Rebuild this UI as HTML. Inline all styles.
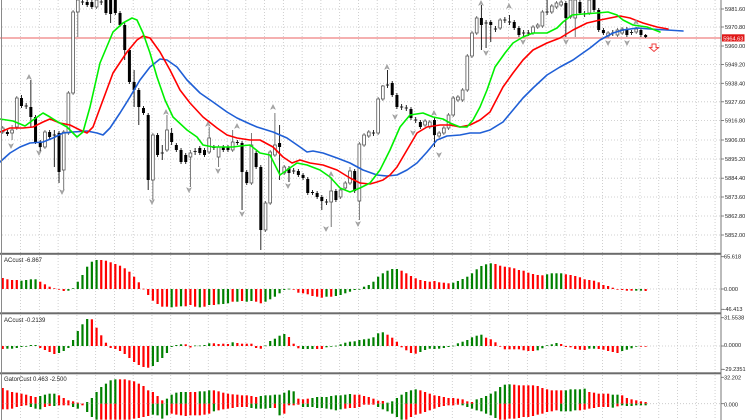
<!DOCTYPE html>
<html><head><meta charset="utf-8">
<style>
html,body{margin:0;padding:0;background:#fff;width:752px;height:420px;overflow:hidden}
svg{display:block}
text{font-family:"Liberation Sans",sans-serif;fill:#222}
</style></head>
<body>
<svg id="c" width="752" height="420" viewBox="0 0 752 420" xmlns="http://www.w3.org/2000/svg">
<rect width="752" height="420" fill="#fff"/>
<g id="lgrid"></g>
<line x1="0" y1="38" x2="721" y2="38" stroke="#ef8080" stroke-width="1.2"/>
<g id="lcand"></g>
<g id="lma"></g>
<g id="lfr"></g>
<g id="lhist"></g>
<polygon points="652,44 656,44 656,47.5 658.5,47.5 654,51.5 649.5,47.5 652,47.5" fill="#fff" stroke="#f04040" stroke-width="1"/>
<!-- separators and axis -->
<rect x="0" y="252.8" width="721" height="2" fill="#6b6b6b"/>
<rect x="0" y="312.3" width="721" height="2" fill="#6b6b6b"/>
<rect x="0" y="372.3" width="721" height="2" fill="#6b6b6b"/>
<line x1="1.5" y1="0" x2="1.5" y2="420" stroke="#8a8a8a" stroke-width="1"/>
<line x1="721" y1="0" x2="721" y2="420" stroke="#777" stroke-width="1"/>
<g id="lticks" stroke="#666" stroke-width="0.8"></g>
<!-- axis labels main -->
<g font-size="5.6">
<text x="725" y="11">5981.60</text>
<text x="725" y="29">5970.80</text>
<text x="725" y="48">5960.00</text>
<text x="725" y="66.5">5949.20</text>
<text x="725" y="85.3">5938.40</text>
<text x="725" y="103.8">5927.60</text>
<text x="725" y="122.5">5916.80</text>
<text x="725" y="142">5906.00</text>
<text x="725" y="161">5895.20</text>
<text x="725" y="180.2">5884.40</text>
<text x="725" y="199">5873.60</text>
<text x="725" y="218">5862.80</text>
<text x="725" y="237">5852.00</text>
<text x="724" y="258.7">65.618</text>
<text x="724" y="291">0.000</text>
<text x="723.5" y="311">-46.413</text>
<text x="724" y="319.7">31.5538</text>
<text x="724" y="347">0.0000</text>
<text x="723.5" y="371">-29.2351</text>
<text x="724" y="379.3">32.202</text>
<text x="724" y="406.3">0.000</text>
</g>
<rect x="722" y="34.3" width="22.5" height="7.2" fill="#e01818"/>
<text x="723.2" y="40.3" font-size="5.6" style="fill:#fff">5964.63</text>
<g font-size="6">
<text x="4" y="262">ACcust -6.867</text>
<text x="4" y="322">ACcust -0.2139</text>
<text x="4" y="381">GatorCust 0.463 -2.500</text>
</g>
</svg>
<script>
(function(){
var svg=document.getElementById('c');
var NS='http://www.w3.org/2000/svg';
function el(t,a,p){var e=document.createElementNS(NS,t);for(var k in a)e.setAttribute(k,a[k]);p.appendChild(e);return e;}
function X(i){return 2.7+4.693*i;}
var lg=document.getElementById('lgrid');
for(var k=1;k<=38;k++){var x=1.8+18.77*k;if(x>720)break;
 el('line',{x1:x,y1:0,x2:x,y2:420,stroke:'#c4c4c4','stroke-width':0.8,'stroke-dasharray':'1 2'},lg);}
var gy=[9,27,46,64.5,83.3,101.8,120.5,140,159,178.2,197,216,235];
var lt=document.getElementById('lticks');
gy.forEach(function(y){el('line',{x1:2,y1:y,x2:721,y2:y,stroke:'#c4c4c4','stroke-width':0.8,'stroke-dasharray':'1 2'},lg);
 el('line',{x1:721,y1:y,x2:724,y2:y},lt);});
[289,346,403.7].forEach(function(y){el('line',{x1:2,y1:y,x2:721,y2:y,stroke:'#c4c4c4','stroke-width':0.8,'stroke-dasharray':'1 2'},lg);
 el('line',{x1:721,y1:y,x2:724,y2:y},lt);});
[256.7,309.3,317.7,369.3,377.3].forEach(function(y){el('line',{x1:721,y1:y,x2:724,y2:y},lt);});

var C=[
['w',128,132,126,134],['b',132,134,130,136],['w',130,133,125,140],['w',98,127,96,130],['b',98,106,95,108],
['d',105,107,103,109],['b',107,117,80,127],['b',117,142,115,144],['b',142,147,140,152],['w',132,147,130,149],
['b',132,137,130,139],['d',134,136,130,167],['b',133,172,131,183],['w',132,170,130,190],['w',93,133,91,135],
['w',12,93,10,95],['w',0,12,0,37],['d',1,3,0,5],['b',2,5,0,7],['b',2,7,0,9],
['w',0,7,0,9],['d',1,3,0,5],['b',0,13,0,15],['b',0,14,0,23],['b',0,13,0,15],
['b',13,25,11,27],['b',25,50,23,60],['b',50,82,48,84],['b',82,90,70,107],['b',90,107,88,125],
['b',108,113,106,115],['b',115,180,113,190],['w',135,180,133,200],['b',135,155,133,157],['d',152,154,145,160],
['w',130,150,115,152],['b',133,142,128,145],['b',145,150,143,152],['b',150,162,148,164],['b',155,162,153,164],
['w',153,157,150,187],['d',150,153,148,155],['b',148,153,146,155],['b',150,155,148,157],['w',138,152,127,154],
['b',147,148,145,150],['w',147,157,145,167],['b',147,150,145,152],['b',147,150,145,152],['w',142,150,130,152],
['b',142,143,140,145],['b',143,172,141,210],['b',172,183,170,185],['w',145,183,133,185],['b',153,167,151,169],
['b',167,230,165,250],['w',203,230,201,232],['w',152,203,150,205],['w',145,155,113,157],['b',143,147,125,180],
['w',167,173,165,175],['b',168,173,166,182],['d',170,172,168,174],['b',171,175,169,177],['b',175,178,173,180],
['b',179,193,177,195],['b',192,193,190,195],['b',193,197,191,199],['b',197,201,195,210],['d',201,203,199,205],
['w',191,202,177,227],['b',191,200,189,202],['w',190,197,188,199],['w',183,188,181,190],['w',171,183,167,185],
['b',171,191,169,193],['w',144,201,142,220],['w',135,145,133,147],['w',132,136,130,138],['d',132,134,130,136],
['w',99,133,97,135],['w',86,99,85,101],['d',84,86,70,88],['b',83,95,81,97],['b',95,107,93,109],
['d',106,108,104,110],['d',107,109,105,111],['b',109,118,107,120],['d',119,121,117,123],['b',122,127,120,129],
['w',121,125,119,127],['w',122,127,120,129],['b',120,135,118,147],['w',133,136,131,138],['w',128,133,126,135],
['w',115,128,113,130],['w',98,115,96,117],['w',97,100,95,102],['w',90,100,88,102],['w',56,90,54,92],
['w',33,56,31,58],['w',18,33,16,35],['b',18,25,5,50],['d',22,24,20,48],['b',22,25,20,42],
['d',28,30,26,32],['w',20,28,18,30],['d',19,21,17,23],['d',21,23,15,25],['b',22,28,20,30],
['b',28,35,26,37],['d',32,34,30,36],['d',32,34,30,36],['w',27,33,25,35],['w',25,27,23,29],
['w',12,26,10,28],['d',11,13,0,15],['w',6,12,4,14],['w',3,7,1,9],['w',2,5,0,7],
['b',3,18,1,37],['w',0,17,0,19],['w',0,18,0,37],['b',2,13,0,15],['d',13,15,11,17],
['w',0,13,0,15],['b',0,10,0,12],['b',10,30,8,32],['b',30,33,28,35],['w',33,36,31,38],
['d',32,34,30,36],['w',30,35,28,37],['w',29,33,27,35],['b',29,35,27,37],['d',32,33,30,35],
['w',29,32,27,34],['b',30,35,28,37],['b',35,37,34,38]];
var lc=document.getElementById('lcand');
C.forEach(function(c,i){var x=X(i);var t=c[0];
 el('line',{x1:x,y1:c[3],x2:x,y2:c[4],stroke:(t=='w'?'#6a6a6a':'#111'),'stroke-width':0.9},lc);
 if(t=='b'){el('rect',{x:x-1.5,y:c[1],width:3,height:Math.max(c[2]-c[1],1),fill:'#000'},lc);}
 else if(t=='w'){el('rect',{x:x-1.4,y:c[1],width:2.8,height:Math.max(c[2]-c[1],1),fill:'#fff',stroke:'#555','stroke-width':0.8},lc);}
 else{el('line',{x1:x-1.6,y1:(c[1]+c[2])/2,x2:x+1.6,y2:(c[1]+c[2])/2,stroke:'#222','stroke-width':1},lc);}
});

var lm=document.getElementById('lma');
function pl(pts,col){el('polyline',{points:pts.map(function(p){return p[0]+','+p[1];}).join(' '),fill:'none',stroke:col,'stroke-width':1.6,'stroke-linejoin':'round','stroke-linecap':'round'},lm);}
pl([[0,162],[10,153],[20,147],[30,143],[43,142],[53,138],[63,133],[73,132],[87,131],[97,133],[103,135],[110,128],[120,113],[130,97],[140,80],[150,67],[160,59],[167,60],[177,67],[187,80],[200,93],[213,102],[227,112],[237,118],[250,124],[257,127],[273,132],[287,138],[300,147],[307,152],[313,151],[323,153],[337,158],[350,163],[363,170],[377,175],[387,176],[397,175],[407,170],[417,163],[427,152],[437,140],[447,136],[460,135],[470,133],[480,133],[490,130],[503,122],[513,110],[523,98],[533,88],[547,75],[560,67],[573,60],[580,55],[590,48],[600,40],[613,33],[623,30],[637,28],[650,29],[667,30],[683,31]],'#1f5fd6');
pl([[0,132],[10,128],[23,128],[33,127],[43,122],[50,119],[60,123],[70,125],[80,130],[87,133],[93,127],[103,100],[113,73],[127,52],[137,40],[143,36],[150,38],[160,52],[170,70],[180,90],[190,103],[203,117],[217,128],[227,135],[237,138],[250,140],[260,140],[273,147],[283,157],[292,163],[300,160],[310,163],[323,165],[337,170],[350,178],[360,183],[370,184],[377,182],[383,180],[390,175],[397,167],[407,150],[417,133],[427,127],[440,125],[450,125],[460,127],[470,125],[480,120],[490,112],[503,87],[513,73],[523,60],[533,50],[547,43],[560,38],[573,30],[587,23],[600,20],[610,18],[620,16],[630,18],[643,23],[657,27],[668,29]],'#ff0000');
pl([[0,119],[13,121],[25,126],[33,120],[43,113],[50,117],[58,122],[67,127],[77,137],[83,132],[90,107],[100,63],[113,32],[123,23],[132,18],[137,20],[143,33],[150,53],[157,77],[165,100],[173,117],[187,130],[197,137],[203,145],[213,147],[233,147],[240,146],[250,145],[260,153],[270,155],[280,175],[287,170],[297,163],[307,165],[320,170],[330,177],[340,188],[350,192],[360,188],[370,183],[380,170],[390,150],[400,127],[410,115],[423,113],[433,117],[443,119],[450,123],[460,127],[467,127],[473,120],[480,107],[487,90],[495,67],[505,53],[513,43],[523,37],[533,33],[547,33],[557,28],[563,22],[572,15],[583,14],[597,13],[608,12],[617,15],[623,20],[633,25],[647,27],[660,32]],'#00f000');

var lf=document.getElementById('lfr');
[[29,77],[166,112],[208,124],[237,126],[273,107],[331,174],[387,67],[434,113],[481,3],[509,6],[636,22]].forEach(function(p){
 var x=p[0],y=p[1];el('polygon',{points:(x)+','+(y-2.5)+' '+(x+2.5)+','+(y+2.5)+' '+x+','+(y+1)+' '+(x-2.5)+','+(y+2.5),fill:'#a8a8a8',stroke:'#888','stroke-width':0.4},lf);});
[[11,146],[39,153],[62,192],[152,202],[189,190],[218,171],[242,214],[288,186],[326,229],[358,224],[395,117],[413,133],[439,155],[486,53],[523,42],[566,42],[608,43],[627,43]].forEach(function(p){
 var x=p[0],y=p[1];el('polygon',{points:(x)+','+(y+2.5)+' '+(x+2.5)+','+(y-2.5)+' '+x+','+(y-1)+' '+(x-2.5)+','+(y-2.5),fill:'#a8a8a8',stroke:'#888','stroke-width':0.4},lf);});

var GR='#008000',RD='#ff0000';
var lh=document.getElementById('lhist');
function bar(x,y1,y2,col){var t=Math.min(y1,y2),h=Math.max(Math.abs(y2-y1),0.7);el('rect',{x:x-1.1,y:t,width:2.2,height:h,fill:col},lh);}
var A1=[11,'r',9.7,'r',9,'r',9,'r',8.3,'g',9,'g',9.7,'g',9.7,'g',7.3,'r',4.7,'r',2.3,'r',0.7,'r',-0.7,'r',-2,'r',-1.7,'g',0.7,'g',7.3,'g',14,'g',22.3,'g',27.3,'g',29,'g',29,'r',28.3,'r',26.7,'r',25,'r',23.3,'r',20.7,'r',17.3,'r',12.3,'r',6.7,'r',0.3,'r',-6,'r',-11.7,'r',-15,'r',-17.7,'r',-17.7,'r',-18.3,'g',-17.7,'r',-17.3,'g',-17.3,'r',-16,'r',-17.7,'r',-18.3,'g',-17.7,'r',-16,'g',-16,'r',-15.3,'g',-15,'g',-14.3,'g',-12.7,'r',-12.7,'g',-12,'r',-12.7,'g',-12,'g',-12.7,'r',-14.3,'r',-12.7,'g',-10.3,'g',-7.7,'g',-4.3,'g',-1,'g',0.3,'g',-0.3,'r',-3.7,'r',-4.3,'r',-5.3,'r',-7,'r',-7.7,'r',-8.7,'r',-7.7,'g',-7.7,'r',-7,'g',-6,'g',-4.3,'g',-2.7,'g',-1,'g',0,'g',2.3,'g',4,'g',7.3,'g',12.3,'g',15.7,'g',18.3,'g',20,'g',20,'g',18.3,'r',15.7,'r',13,'r',10.7,'r',9,'r',8,'r',7.3,'r',8,'r',6.7,'r',6.3,'r',5.7,'r',6.3,'g',8,'g',10,'g',12.3,'g',15.7,'g',19.7,'g',23,'g',24.7,'g',25.7,'g',25,'r',23.3,'r',22.3,'r',21.7,'r',20.7,'r',19,'r',18.3,'r',16.3,'r',15,'r',14,'r',13.7,'r',14.7,'g',15.7,'g',15.7,'g',15.7,'g',14.7,'r',14,'r',13,'r',11.7,'r',9.7,'r',9,'r',8.3,'r',6.7,'r',4,'r',3,'r',1.3,'r',0,'r',-1,'r',-1.7,'r',-1.7,'r',-1.7,'g',-1.7,'g',-2,'r'];
for(var i=0;i<A1.length/2;i++){var h=A1[2*i];bar(X(i),289,289-h,A1[2*i+1]=='g'?GR:RD);}
var A2=[-3,'r',-2.7,'g',-2.7,'g',-2,'g',-1,'g',-0.7,'g',1,'g',1,'g',-2,'r',-4,'r',-6,'r',-8,'r',-7,'g',-5,'g',-2,'g',6,'g',15,'g',21.7,'g',27,'g',26.7,'r',18.3,'r',10.7,'r',3.3,'r',-2,'r',-3,'r',-5,'r',-8,'r',-12,'r',-16,'r',-19,'r',-21,'r',-21.7,'r',-20,'g',-16,'g',-12,'g',-7,'g',-1,'g',1,'g',1.7,'g',1.7,'r',-1.5,'r',0.5,'g',0.5,'g',1,'g',2.7,'g',2.7,'r',2,'r',2.3,'r',2,'r',3.7,'g',3,'r',2.3,'r',2.3,'r',2.3,'r',-2,'r',-2.7,'r',0.5,'g',5,'g',7.3,'g',10.3,'g',12,'g',9,'r',2.3,'r',-2.3,'r',-3,'g',-3,'g',-3,'g',-3,'r',-3,'r',-1.3,'g',-0.7,'g',0.3,'g',1.7,'g',3.3,'g',4.3,'g',4.7,'g',6,'g',6.7,'g',7.3,'g',8.7,'g',12.7,'g',13.7,'g',11.3,'r',8.3,'r',4.3,'r',-1.3,'r',-4.3,'r',-7,'r',-7.7,'r',-6,'g',-4,'g',-2.7,'g',-3,'g',-2.7,'g',-2,'g',-1,'g',0.3,'g',2.7,'g',4.3,'g',6,'g',8.7,'g',10.3,'g',11.3,'g',8.3,'r',6.7,'r',3.7,'r',0,'r',-3.3,'r',-3.3,'r',-3.3,'r',-3.3,'r',-4.3,'r',-5,'r',-5,'r',-4.3,'g',-2.3,'g',0.7,'g',1.7,'g',3,'g',2,'r',-1,'r',-1.3,'r',-3,'r',-3.7,'r',-4,'r',-2.7,'g',-2.7,'g',-3,'r',-3.7,'r',-5,'r',-6,'r',-7,'r',-5,'g',-3.7,'g',-2.3,'g',-0.3,'g',-0.3,'r',-0.5,'r'];
for(var i=0;i<A2.length/2;i++){var h=A2[2*i];bar(X(i),346,346-h,A2[2*i+1]=='g'?GR:RD);}
var GT=[48,'r',112,'r',55,'r',112,'r',60,'r',110,'r',62,'r',105,'r',65,'r',102,'r',68,'r',100,'r',72,'r',105,'g',75,'r',110,'g',72,'g',112,'g',68,'g',105,'r',
65,'g',102,'r',65,'g',102,'g',70,'r',100,'r',78,'r',100,'r',85,'r',100,'r',88,'r',105,'g',92,'r',110,'g',95,'r',100,'r',90,'g',120,'g',78,'g',135,'g',
60,'g',143,'g',45,'g',143,'r',35,'g',143,'r',25,'g',143,'r',22,'g',143,'r',22,'r',143,'r',22,'r',143,'r',25,'r',143,'r',28,'r',140,'r',35,'r',138,'r',
42,'r',135,'r',55,'r',132,'r',60,'r',128,'g',72,'r',130,'g',85,'r',140,'g',80,'g',130,'g',68,'g',125,'r',62,'g',128,'r',60,'g',130,'r',60,'g',132,'r',
60,'r',130,'r',60,'r',130,'r',58,'g',130,'r',58,'g',128,'r',55,'g',125,'r',55,'r',118,'g',58,'r',115,'r',62,'r',112,'r',65,'r',110,'r',67,'r',108,'r',
68,'r',105,'r',70,'r',105,'r',70,'r',105,'r',72,'r',108,'g',75,'r',110,'g',72,'g',110,'g',70,'g',110,'g',70,'g',108,'g',68,'g',108,'r',68,'g',130,'g',
62,'g',125,'r',55,'g',100,'r',58,'g',100,'r',80,'r',98,'r',82,'r',105,'g',80,'r',105,'g',78,'g',105,'g',75,'g',108,'g',75,'g',108,'g',75,'g',110,'g',
72,'g',112,'g',70,'g',115,'g',70,'g',112,'g',68,'g',110,'r',66,'g',108,'r',68,'r',108,'r',68,'r',105,'r',72,'r',98,'r',75,'r',98,'r',80,'r',98,'r',
86,'r',105,'g',87,'r',112,'g',92,'g',118,'g',88,'g',125,'g',78,'g',135,'g',68,'g',143,'g',60,'g',143,'r',55,'g',135,'r',52,'g',128,'r',55,'r',125,'r',
60,'r',120,'r',65,'r',115,'r',70,'r',110,'r',72,'r',105,'r',75,'r',102,'r',78,'r',100,'r',78,'r',100,'r',80,'r',98,'r',82,'r',100,'g',88,'r',105,'g',
90,'r',110,'g',82,'g',115,'g',78,'g',118,'g',72,'g',125,'g',65,'g',130,'g',58,'g',138,'g',45,'g',143,'r',38,'g',143,'r',37,'g',140,'r',38,'r',140,'r',
40,'r',138,'r',40,'r',135,'r',40,'r',135,'r',40,'r',132,'r',42,'r',128,'r',48,'r',125,'r',52,'r',120,'r',55,'r',118,'r',55,'r',115,'r',55,'r',118,'g',
55,'g',118,'g',52,'g',118,'g',52,'g',115,'g',52,'g',115,'r',50,'g',113,'r',60,'r',110,'r',62,'r',108,'r',65,'r',105,'r',65,'r',105,'r',65,'r',105,'r',
68,'g',107,'g',68,'g',103,'r',70,'r',100,'g',78,'r',102,'g',82,'r',102,'g',85,'r',100,'g',88,'r',100,'g',90,'r',100,'g'];
var B=403.7;
for(var i=0;i<GT.length/4;i++){var x=X(i);
 var ut=372+GT[4*i]/3;bar(x,B,ut,GT[4*i+1]=='g'?GR:RD);
 var lb=Math.min(372+GT[4*i+2]/3,420);bar(x,B,lb,GT[4*i+3]=='g'?GR:RD);}
})();
</script>
</body></html>
